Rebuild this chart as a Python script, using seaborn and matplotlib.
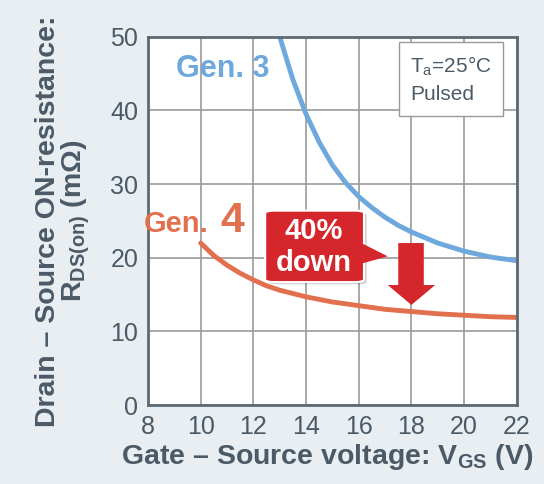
import pandas as pd
import matplotlib.pyplot as plt
import seaborn as sns
from matplotlib.patches import FancyBboxPatch, Polygon

gen3_vgs = [13.0, 13.5, 14.0, 14.5, 15.0, 15.5, 16.0, 16.5, 17.0, 17.5, 18.0, 19.0, 20.0, 21.0, 22.0]
gen3_rds = [50.0, 44.2, 39.5, 35.7, 32.6, 30.2, 28.3, 26.8, 25.5, 24.4, 23.5, 22.0, 20.9, 20.1, 19.6]
gen4_vgs = [10.0, 10.5, 11.0, 11.5, 12.0, 12.5, 13.0, 14.0, 15.0, 16.0, 17.0, 18.0, 19.0, 20.0, 21.0, 22.0]
gen4_rds = [22.0, 20.3, 19.0, 17.9, 17.0, 16.2, 15.6, 14.7, 14.0, 13.5, 13.0, 12.7, 12.4, 12.2, 12.0, 11.9]
x_ticks = [8, 10, 12, 14, 16, 18, 20, 22]
y_ticks = [0, 10, 20, 30, 40, 50]

df = pd.concat([
    pd.DataFrame({"vgs": gen3_vgs, "rds": gen3_rds, "gen": "Gen. 3"}),
    pd.DataFrame({"vgs": gen4_vgs, "rds": gen4_rds, "gen": "Gen. 4"}),
])

sns.set_theme(style="whitegrid")
plt.rcParams["font.family"] = ["Liberation Sans", "DejaVu Sans"]
plt.rcParams["mathtext.fontset"] = "custom"
plt.rcParams["mathtext.rm"] = "Liberation Sans"
plt.rcParams["mathtext.bf"] = "Liberation Sans:bold"

BG = "#e9eef2"
TXT = "#4b5a66"
BLUE = "#6fa8dc"
ORANGE = "#e2704f"
RED = "#d5262c"

fig = plt.figure(figsize=(5.44, 4.84), dpi=100, facecolor=BG)
ax = fig.add_axes([0.272, 0.163, 0.678, 0.761])
ax.set_facecolor("white")

sns.lineplot(data=df, x="vgs", y="rds", hue="gen", palette=[BLUE, ORANGE],
             linewidth=3.5, legend=False, ax=ax)

ax.set_xlim(8, 22)
ax.set_ylim(0, 50)
ax.set_xticks(x_ticks)
ax.set_yticks(y_ticks)
ax.grid(True, color="#9a9a9a", linewidth=1.2)
for s in ax.spines.values():
    s.set_color("#5d6a74")
    s.set_linewidth(2)
ax.tick_params(axis="both", length=0, labelsize=18, labelcolor=TXT, pad=7)

ax.set_xlabel(r"Gate – Source voltage: V$_{\mathbf{GS}}$ (V)", fontsize=20.5,
              fontweight="bold", color=TXT)
ax.xaxis.set_label_coords(0.485, -0.1)
ax.set_ylabel("Drain – Source ON-resistance:\n" + r"R$_{\mathbf{DS(on)}}$ (mΩ)",
              fontsize=20.5, fontweight="bold", color=TXT, labelpad=13, linespacing=0.95)

# series labels
ax.text(9.05, 45.6, "Gen. 3", color=BLUE, fontsize=22, fontweight="bold", va="center")
ax.text(7.85, 24.6, "Gen.", color=ORANGE, fontsize=21, fontweight="bold", va="center",
        clip_on=False)
ax.text(10.75, 25.0, "4", color=ORANGE, fontsize=31, fontweight="bold", va="center")

# condition box
ax.text(17.95, 44.2, "T$_\\mathrm{a}$=25°C\nPulsed", fontsize=15, color=TXT, va="center",
        linespacing=1.45,
        bbox=dict(boxstyle="square,pad=0.55", facecolor="white", edgecolor="#999999"))

# callout
shadow = FancyBboxPatch((12.55, 16.4), 3.75, 9.7, boxstyle="round,pad=0,rounding_size=0.35",
                        facecolor="#00000030", edgecolor="none", zorder=4)
ax.add_patch(shadow)
box = FancyBboxPatch((12.45, 16.7), 3.75, 9.7, boxstyle="round,pad=0,rounding_size=0.35",
                     facecolor=RED, edgecolor="white", linewidth=1.5, zorder=5)
ax.add_patch(box)
ax.add_patch(Polygon([(16.1, 22.0), (16.1, 19.2), (17.1, 20.2)], closed=True,
                     facecolor=RED, edgecolor="none", zorder=5))
ax.text(14.3, 23.7, "40%", color="white", fontsize=21, fontweight="bold",
        ha="center", va="center", zorder=6)
ax.text(14.3, 19.3, "down", color="white", fontsize=21, fontweight="bold",
        ha="center", va="center", zorder=6)
ax.add_patch(Polygon([(17.5, 22.0), (18.47, 22.0), (18.47, 16.3), (18.9, 16.3),
                      (18.0, 13.6), (17.1, 16.3), (17.5, 16.3)], closed=True,
                     facecolor=RED, edgecolor="none", zorder=5))

fig.savefig("out.png", dpi=100, facecolor=BG)
